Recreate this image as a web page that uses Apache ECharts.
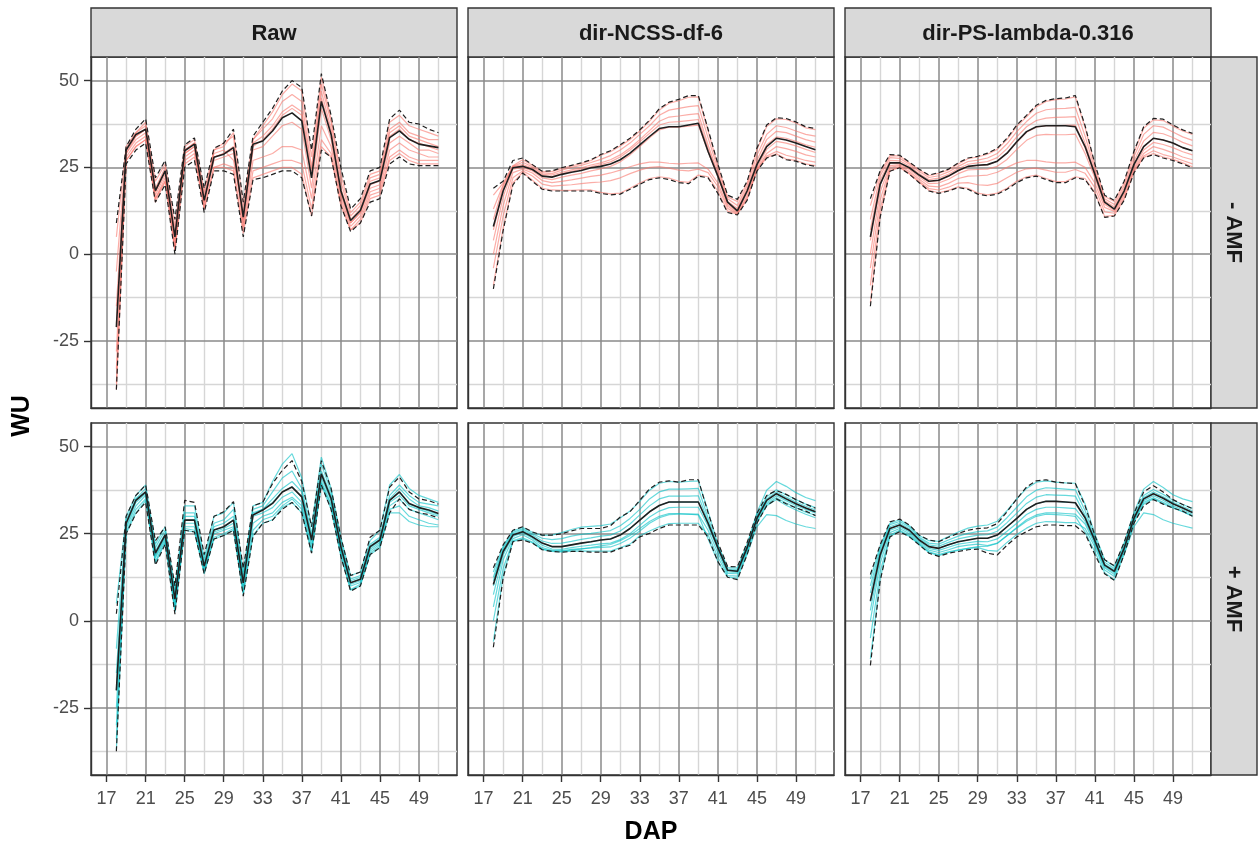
<!DOCTYPE html>
<html>
<head>
<meta charset="utf-8">
<title>WU by DAP</title>
<script src="https://cdn.jsdelivr.net/npm/echarts@6/dist/echarts.min.js"></script>
<style>
  html, body { margin: 0; padding: 0; background: #ffffff; }
  #chart { width: 1258px; height: 851px; }
</style>
</head>
<body>
<div id="chart"></div>
<script>
// ---- axis values -------------------------------------------------------
const DAP = [18,19,20,21,22,23,24,25,26,27,28,29,30,31,32,33,34,35,36,37,38,39,40,41,42,43,44,45,46,47,48,49,50,51];
const X_TICKS = [17,21,25,29,33,37,41,45,49];
const X_MINOR = [19,23,27,31,35,39,43,47,51];
const Y_TICKS = [-25,0,25,50];
const Y_MINOR = [-37.5,-12.5,12.5,37.5];
const METHODS = ['Raw','dir-NCSS-df-6','dir-PS-lambda-0.316'];
const TREATMENTS = ['- AMF','+ AMF'];

// ---- Raw, - AMF --------------------------------------------------------
const rawMinusMean  = [-21,30,34.5,36,18.3,24,5,29.8,31.7,15.5,27.9,28.8,30.7,10.7,31.7,32.6,35.5,39.3,40.7,38.4,22,44,34.5,18.3,9.7,12.6,20.2,21.2,33.6,35.5,33.1,31.7,31.2,30.7];
const rawMinusUpper = [9,31,36,39,22,27,10,31.5,33.5,19,30.5,32,36,15,34,38,42,47,50,48,30,52,40,25,13,16,24,25,39,41.5,38,37.5,36,35];
const rawMinusLower = [-39,26,30,32,15,20,0,25,27,12,24,24,23,5,21.5,22,23,24,24,22,11,30,28,14,6.5,9,15,16,26,28,26,25.5,25.5,25.5];
const rawMinusPlants = [
  [5,31,35,38,21,26,8,31,33,18,30,31,35,14,33,37,41,46,49,47,28,51,39,23,12,15,23,24,38,40,37,36,35,34],
  [-5,30,35,37,19,25,6,30,32,17,29,30,27,12,33,36,39,44,46,44,25,49,38,21,11,14,22,23,36,38,35,34,33,33],
  [-15,30,34,36,18,24,4,30,32,16,28,29,31,11,32,34,37,41,43,41,24,47,36,19,10,13,21,22,35,37,34,33,32,31],
  [-20,29,34,36,18,24,5,29,31,15,28,29,30,10,31,33,36,40,42,40,22,45,35,18,9,12,20,21,34,36,33,32,31,30],
  [-28,29,33,35,17,23,3,29,31,15,27,28,29,9,30,31,34,37,38,36,19,42,33,17,9,12,19,20,32,34,32,30,30,29],
  [-33,28,32,34,16,22,2,28,30,14,30,32,34,8,27,28,29,31,31,30,16,37,31,16,8,11,18,19,30,32,30,29,28,28],
  [-37,27,31,33,16,21,1,27,29,13,25,26,25,7,24,25,26,27,27,26,13,33,29,15,7,10,17,18,28,30,28,27,27,27],
  [-39,27,31,33,15,21,1,26,28,13,25,25,24,6,22,23,24,25,25,23,11,31,28,14,7,9,16,17,27,29,27,26,26,26]
];

// ---- dir-NCSS-df-6, - AMF ----------------------------------------------
const ncssMinusMean  = [8,18.2,24.9,25.3,24.4,22.5,22.2,23,23.6,24.1,24.9,25.3,26,27.2,29.1,31.5,33.9,36.2,36.7,36.7,37.2,37.7,29.6,22.5,15,12.5,18.2,25.8,31,33.4,32.9,32,31,30.1];
const ncssMinusUpper = [19,21,27,27.7,25.8,23.9,24,24.9,25.6,26.3,27.2,28.7,29.8,31.5,33.4,35.8,38.6,41.9,43.8,44.6,45.7,45.7,36,26,17,15.8,21,30.5,37.2,39.3,39.1,38.1,36.7,36.2];
const ncssMinusLower = [-10,6.8,20,23.4,21,18.7,18.2,18.2,18.2,18.2,18.2,17.5,17.1,17.3,18.7,20.1,21.5,22,21.5,20.6,20.3,22.5,22,17.5,12,11.3,15.5,23.9,27.7,28.7,27.2,26.8,25.8,25.3];
const ncssMinusPlants = [
  [17,20.5,25.5,27.2,25.6,23.8,23.8,24.7,25.4,26.1,27,28.5,29.5,31.2,33,35.5,38.3,41.5,43.5,44.2,45.2,45.3,35.5,25.5,16.5,15.2,20.5,30,36.8,39,38.8,37.8,36.4,35.9],
  [13,20,25.3,26.5,25.2,23.4,23.2,24.2,25,25.6,26.4,27.3,28.4,30,32,34.5,37,40,41.5,42,42.5,42.8,33.5,24.5,16,14,19.8,28.5,34.5,37,36.5,35.5,34.5,34],
  [10,19.5,25.2,25.8,24.8,23,22.8,23.6,24.3,24.9,25.7,26.3,27.2,28.6,30.6,33,35.6,38.3,39.5,39.8,40.2,40.5,31.5,23.5,15.2,13.2,19,27,33,35.4,35,34,33,32.3],
  [7,18.5,25,25.4,24.5,22.6,22.3,23.2,23.9,24.5,25.2,25.8,26.6,28,30,32.4,34.8,37.2,38,38.2,38.5,38.8,30.5,23,14.8,12.8,18.4,26,31.5,33.8,33.4,32.5,31.5,30.8],
  [4,16.5,24.5,25,24,22,21.5,22.2,22.8,23.3,24,24.6,25.3,26.6,28.6,31,33.5,35.8,36.6,36.6,36.9,37.2,29.5,22.3,14.3,12.2,17.6,25,30.2,32.5,32,31.2,30.2,29.3],
  [0,14,23.5,24.5,23.4,21.2,20.6,21,21.4,21.9,22.4,22.8,23.4,24.2,25.2,26,26.5,26.5,26.2,26,26.2,26.3,24.5,20.5,13.8,11.9,16.8,24.5,29,31,30.4,29.6,28.6,28],
  [-4,11,22,24,22.5,20.2,19.6,19.8,20,20.3,20.6,20.8,21.2,22,23.2,24.2,25,25.2,24.8,24.2,24,24.5,23.5,19.5,13.2,11.6,16.2,24.2,28.3,29.6,28.5,27.8,27,26.5],
  [-9,7.5,20.5,23.6,21.3,19,18.5,18.4,18.4,18.5,18.5,17.8,17.4,17.6,19,20.5,21.8,22.3,21.9,21,20.7,22.8,22.3,18.2,12.4,11.5,15.8,24,27.9,28.9,27.4,27,26,25.5]
];

// ---- dir-PS-lambda-0.316, - AMF ----------------------------------------
const psMinusMean  = [5,20.1,26.3,26.3,24.9,22.8,21,21.3,22.5,24.1,25.3,25.6,25.8,26.8,29.1,32.4,35.3,36.7,37,37,37,36.7,31,23,15,13,18.2,25.8,31,33.4,32.9,32,30.7,29.8];
const psMinusUpper = [16,24,28.7,28.5,26.5,24.5,22.8,23.5,24.5,26.3,27.7,28.2,29.1,30.5,33.4,37.2,40,42.9,44.3,44.8,45,45.7,37,26,17,15.5,21,29.6,36.7,39.1,38.9,37.2,35.8,34.8];
const psMinusLower = [-15,10.6,23.9,24.9,23,20.6,18.2,17.5,18.2,19.2,18.7,17.3,16.8,17.3,18.7,20.6,22,22.5,21.5,20.6,20.6,22,21.5,17.5,10.6,11,15.5,23.4,27.7,28.7,27.7,27,26,24.9];
const psMinusPlants = [
  [14,23.5,28.4,28.3,26.3,24.3,22.6,23.3,24.3,26,27.5,28,28.8,30.2,33,36.8,39.6,42.5,44,44.5,44.7,45.3,36.5,25.5,16.6,15.2,20.6,29.2,36.3,38.7,38.5,36.9,35.5,34.5],
  [10,22.5,27.8,27.6,25.9,23.8,22.1,22.6,23.7,25.3,26.7,27.1,27.7,29,31.8,35.3,38.2,40.6,41.6,41.9,42,42.3,34,24.5,16,14.3,19.8,28,34.5,37,36.6,35.2,33.8,32.8],
  [7,21.2,27,26.9,25.4,23.2,21.5,21.9,23,24.6,25.9,26.3,26.7,27.8,30.4,33.8,36.7,38.5,39.2,39.4,39.5,39.6,32,23.6,15.4,13.6,19,26.8,32.6,35.1,34.7,33.6,32.2,31.2],
  [4,20,26.2,26.2,24.8,22.7,20.9,21.2,22.4,24,25.2,25.5,25.7,26.7,29,32.2,35.1,36.6,37,37,37.1,37.2,30.6,22.8,14.9,13,18.2,25.8,31,33.4,32.9,32,30.7,29.8],
  [0,18,25.5,25.8,24.4,22.2,20.3,20.5,21.6,23.2,24.3,24.4,24.5,25.3,27.3,30.2,32.8,34.2,34.5,34.4,34.4,34.6,29,22,14.4,12.6,17.6,25,30,32.2,31.6,30.7,29.5,28.6],
  [-4,15.5,25,25.5,23.8,21.6,19.6,19.4,20.4,21.8,22.5,22.6,22.8,23.6,25,26.3,27,27,26.6,26.3,26.3,26.5,25,20.5,13.5,12.3,17,24.5,29,31,30.2,29.2,28,27.2],
  [-9,13,24.4,25.2,23.3,21,18.9,18.5,19.3,20.5,20.6,20,19.8,20.4,22,23.6,24.6,24.8,24.2,23.6,23.6,24.4,23.3,19.2,12.2,11.8,16.3,24,28.3,29.8,28.7,28,27,26],
  [-14,11,24,25,23.1,20.7,18.4,17.7,18.4,19.4,19,17.6,17.1,17.6,19,21,22.3,22.8,21.8,20.9,20.9,22.3,21.8,17.8,10.9,11.2,15.8,23.6,27.9,29,28,27.3,26.3,25.2]
];

// ---- Raw, + AMF --------------------------------------------------------
const rawPlusMean  = [-20,28,34.6,37,19.4,24.7,6.2,28.9,28.9,15.7,26.1,27,28.9,10.9,30.4,31.8,33.7,37,38.4,35.6,23.2,42.2,35.1,21.3,10.9,11.9,21.3,23.2,34.6,37,33.7,32.5,31.8,30.8];
const rawPlusUpper = [2,30,36,39,23,27,10,34.6,34,19,30,31.3,34.2,15,33,34,39.4,43.2,46,40,27,46,38,24,13,14,24,26,38.4,41.3,37,35,34.5,33.5];
const rawPlusLower = [-37.5,25,30.8,34,16,22,1.9,26,25.5,13.5,23.5,24.5,26,7.1,24.2,28,28.9,32,34,31,19.4,39,32,18.5,8.5,10,19,21,31,35,32,31,30.5,29.5];
const rawPlusPlants = [
  [5,30,36,39,22,27,9,33,33,18,30,31,34,14,33,34,40,45,48,41,27,47,38,24,13,14,23,26,39,42,38,36,35,34],
  [-8,29,35,38,21,26,8,31,31,17,28,29,32,13,32,33,37,41,43,38,25,45,37,23,12,13,22,24,36,39,36,34,33.5,33],
  [-15,28,35,37,20,25,7,30,30,16,27,28,30,12,31,32,35,38,40,37,24,43,36,22,11.5,12.5,21.5,23.5,35,38,35,33,32.5,31.5],
  [-20,28,34.5,37,19,24.5,6,29,29,15.5,26,27,29,11,30.5,32,34,37,38.5,35.5,23,42,35,21,11,12,21,23,34.5,37,33.5,32.5,31.5,30.5],
  [-25,27,34,36.5,18.5,24,5,28,28,15,25.5,26.5,28,10,30,31,32.5,35.5,37,34,22,41,34.5,20.5,10.5,11.5,20.5,22.5,34,36,33,32,31,30],
  [-30,26.5,33,36,18,23.5,4,27,27,14.5,25,26,27,9,28,30,31,34,35.5,33,21,40,33.5,20,10,11,20,22,33,35,32,31,30,29],
  [-34,25.5,32,35,17,23,3,26.5,26,14,24,25,26.5,8,26,29,30,33,35,32,20,39.5,33,19,9,10.5,19.5,21.5,32,33,30,29,28,27.5],
  [-37,25,31,34.5,16.5,22.5,2.5,26,25.5,13.5,23.5,24.5,26,7.5,24.5,28,29,32.5,34,31,19.5,39,32,18.5,8.8,10,19,21,31,31,28.5,27.5,27,27]
];

// ---- dir-NCSS-df-6, + AMF ----------------------------------------------
const ncssPlusMean  = [10.4,19.9,24.6,25.6,24.1,22.3,21.3,21.3,21.8,22.3,22.7,23.2,23.5,24.6,26.5,28.9,31.3,33.1,34.1,34.1,34.1,34.1,28,21,14.5,14.2,21,29.4,34.6,36.5,35,33.6,32.4,31.3];
const ncssPlusUpper = [15.2,21.8,26,27,25.5,24.6,24.6,25,25.8,26.5,26.5,26.5,27.3,29.8,31.3,34.6,37.9,39.8,40.2,39.8,40.5,40.5,31,22.5,15.6,15.5,22.5,30.8,36,37.4,36.3,34.8,33.5,32.3];
const ncssPlusLower = [-7.6,12.3,22.7,23.2,22.3,20.4,19.9,19.7,19.9,19.9,19.7,19.7,19.7,20.8,21.7,24.1,25.1,26.5,27.5,27.5,27.5,27.5,24,17,12.5,11.8,19,28,33,35,33.6,32.4,31.5,30.2];
const ncssPlusPlants = [
  [14,21.5,25.8,26.8,25.4,24.5,24.6,25.3,26.2,26.9,27.1,27.3,27.8,29.5,31.5,34.3,37.5,39.5,40,39.8,40,40.2,31.5,22,15.3,15.2,22,31,37.5,40,38.6,36.8,35.4,34.5],
  [12.5,21,25.4,26.4,25,23.7,23.3,23.6,24.3,24.8,25.1,25.5,25.9,27.3,29.4,32,35,37,37.8,37.8,37.9,38,29.5,21.5,14.9,14.8,21.6,30.2,35.6,37.6,36.2,34.8,33.5,32.5],
  [11.5,20.5,25,26,24.6,22.9,22.2,22.3,22.8,23.4,23.8,24.3,24.6,25.8,27.8,30.4,33,35,35.8,35.8,35.8,35.9,28.5,21.2,14.6,14.5,21.2,29.8,35,37,35.5,34.1,32.9,31.8],
  [10,19.8,24.6,25.6,24.1,22.3,21.3,21.3,21.8,22.3,22.7,23.2,23.5,24.6,26.5,28.9,31.3,33.1,34.1,34.1,34.1,34.1,28,21,14.4,14.2,20.8,29.4,34.6,36.5,35,33.6,32.4,31.3],
  [7.5,19,24.2,25.3,23.7,21.7,20.6,20.5,21,21.4,21.7,22.1,22.3,23.3,25,27.4,29.8,31.5,32.5,32.6,32.6,32.6,27.2,20.5,14,13.9,20.4,29,34,35.9,34.5,33.1,32,31],
  [4,17.5,23.6,24.7,23.2,21,20.2,20.1,20.5,20.7,20.9,21.1,21.2,22.2,23.7,25.8,28,29.6,30.5,30.6,30.6,30.6,26,19.5,13.6,13.5,20,28.6,33.5,35.3,33.8,32.5,31.2,30.3],
  [0,15,23,23.8,22.6,20.6,19.9,19.8,20,20.1,20,20,20,21,22,24.4,25.8,27,27.9,28,28,28,24.6,18.3,13,12.8,19.6,28.2,33,34.8,33.2,31.8,30.6,29.6],
  [-6,13,22.8,23.4,22.4,20.5,20,20,20.3,20.6,21,21.5,21.9,23,24.5,26.5,28.5,30,30.8,30.8,30.6,30.4,23.5,17,12.6,12.2,19,27,30.5,30.2,28.8,27.8,27,26.5]
];

// ---- dir-PS-lambda-0.316, + AMF ----------------------------------------
const psPlusMean  = [5.7,18.9,26.5,27.5,26,23.2,21.3,20.8,21.8,22.7,23.2,23.7,23.7,24.6,27,29.4,32,33.6,34.3,34.3,34.1,33.9,29.6,23,16,14.2,20.8,29.4,35,36.5,35.2,33.6,32.4,31.1];
const psPlusUpper = [13.3,21.8,28.4,29.2,27.5,24.6,23.2,22.7,24,25.1,26,26.5,26.7,27.9,31.3,35,38.4,40.2,40.5,39.8,39.6,39.4,33,24.5,17.5,15.8,22.5,30.8,37,38.8,37,34.8,33.4,32.2];
const psPlusLower = [-12.8,11.4,24.1,25.6,24.1,21.8,19.4,18.5,19.4,19.9,20.4,20.6,19.4,18.9,21.7,24.1,25.6,27,27.5,27.5,27.3,27.3,25,19,13.5,11.6,19,28,33,34.8,33.5,32.4,31.5,30];
const psPlusPlants = [
  [12,21.5,28,29,27.3,24.5,23,22.8,24.2,25.5,26.6,27.2,27.5,28.6,31.6,35,38,39.8,40.2,39.8,39.6,39.5,33.5,25,17.5,15.6,22.4,31,37.8,40,38.3,36.2,35,34.2],
  [10,20.8,27.6,28.5,26.9,24,22.3,22,23.2,24.3,25.1,25.6,25.8,26.9,29.6,32.6,35.6,37.5,38.2,38,37.8,37.6,31.6,24,16.8,15,21.8,30.3,36,37.7,36.3,34.6,33.4,32.3],
  [8,20,27,28,26.4,23.6,21.8,21.4,22.5,23.5,24.1,24.6,24.7,25.7,28.2,30.9,33.7,35.5,36.2,36.1,36,35.8,30.3,23.5,16.2,14.6,21.2,29.8,35.4,37,35.6,34,32.8,31.6],
  [5.5,19,26.5,27.5,26,23.2,21.3,20.8,21.8,22.7,23.2,23.7,23.7,24.6,27,29.4,32,33.6,34.3,34.3,34.1,33.9,29.6,23,16,14.2,20.8,29.4,35,36.5,35.2,33.6,32.4,31.1],
  [3,18,26,27,25.5,22.7,20.8,20.2,21.1,22,22.4,22.8,22.7,23.5,25.7,28,30.5,32,32.6,32.6,32.4,32.2,28.6,22.5,15.6,13.8,20.4,29,34.5,35.9,34.6,33,31.9,30.6],
  [0,16.5,25.3,26.5,25,22.3,20.3,19.6,20.4,21.3,21.7,22,21.6,22.3,24.5,26.8,29,30.4,31,31,30.8,30.6,27.8,22,15.2,13.3,20,28.6,34,35.3,34,32.6,31.4,30.2],
  [-5,14,24.6,26,24.5,22,19.8,19,19.8,20.4,20.8,21,20.2,20,22.5,24.8,26.6,28,28.5,28.4,28.2,28.2,26.5,21.2,14.6,12.7,19.6,28.2,33.5,35,33.6,32.4,31.3,30],
  [-11,12,24.2,25.7,24.2,21.9,19.6,18.7,19.6,20.2,20.8,21.3,21.4,22.2,24.4,26.6,28.6,30,30.6,30.5,30.3,30,25.5,19.8,13.8,11.8,19,27,31,30.5,29,28,27.3,26.6]
];

// ---- layout ------------------------------------------------------------
const FONT = '"Liberation Sans", Arial, Helvetica, sans-serif';
const X_MIN = 15.4, X_MAX = 52.9;
const Y_MIN = -44.3, Y_MAX = 56.8;
const COL_LEFT = [91, 468, 845];
const ROW_TOP = [57, 423];
const PANEL_W = 366;
const PANEL_H = [351, 352];
const STRIP_TOP = 8;
const STRIP_RIGHT_X = 1211;
const STRIP_RIGHT_W = 46;
const PLANT_COLOR = ['rgba(248,118,109,0.6)', 'rgba(0,191,196,0.6)'];
const DARK = '#1f1f1f';
const MAJOR_GRID = '#8a8a8a';
const MINOR_GRID = '#d6d6d6';

const panels = [
  { row: 0, col: 0, plants: rawMinusPlants,  mean: rawMinusMean,  upper: rawMinusUpper,  lower: rawMinusLower },
  { row: 0, col: 1, plants: ncssMinusPlants, mean: ncssMinusMean, upper: ncssMinusUpper, lower: ncssMinusLower },
  { row: 0, col: 2, plants: psMinusPlants,   mean: psMinusMean,   upper: psMinusUpper,   lower: psMinusLower },
  { row: 1, col: 0, plants: rawPlusPlants,   mean: rawPlusMean,   upper: rawPlusUpper,   lower: rawPlusLower },
  { row: 1, col: 1, plants: ncssPlusPlants,  mean: ncssPlusMean,  upper: ncssPlusUpper,  lower: ncssPlusLower },
  { row: 1, col: 2, plants: psPlusPlants,    mean: psPlusMean,    upper: psPlusUpper,    lower: psPlusLower }
];

const toPairs = vals => DAP.map((d, k) => [d, vals[k]]);

const grids = [], xAxes = [], yAxes = [], series = [];

panels.forEach((p, i) => {
  grids.push({
    left: COL_LEFT[p.col], top: ROW_TOP[p.row],
    width: PANEL_W, height: PANEL_H[p.row],
    show: true, backgroundColor: '#ffffff',
    borderColor: '#333333', borderWidth: 1.4,
    containLabel: false, outerBoundsMode: 'none'
  });

  const showX = p.row === 1;
  const showY = p.col === 0;

  // minor grid lines (axis index 2*i)
  xAxes.push({
    type: 'value', gridIndex: i, position: 'top', min: X_MIN, max: X_MAX, z: 0,
    axisLine: { show: false, onZero: false },
    axisTick: { show: false, customValues: X_MINOR },
    axisLabel: { show: false, customValues: X_MINOR },
    splitLine: { show: true, lineStyle: { color: MINOR_GRID, width: 1.4 } }
  });
  yAxes.push({
    type: 'value', gridIndex: i, position: 'right', min: Y_MIN, max: Y_MAX, z: 0,
    axisLine: { show: false, onZero: false },
    axisTick: { show: false, customValues: Y_MINOR },
    axisLabel: { show: false, customValues: Y_MINOR },
    splitLine: { show: true, lineStyle: { color: MINOR_GRID, width: 1.4 } }
  });

  // major axes (axis index 2*i + 1)
  xAxes.push({
    type: 'value', gridIndex: i, position: 'bottom', min: X_MIN, max: X_MAX, z: 1,
    axisLine: { show: true, onZero: false, lineStyle: { color: '#333333', width: 1.4 } },
    axisTick: { show: showX, customValues: X_TICKS, length: 7, lineStyle: { color: '#333333', width: 1.4 } },
    axisLabel: { show: showX, customValues: X_TICKS, color: '#4d4d4d', fontSize: 18, fontFamily: FONT, margin: 15 },
    splitLine: { show: true, lineStyle: { color: MAJOR_GRID, width: 1.5 } }
  });
  yAxes.push({
    type: 'value', gridIndex: i, position: 'left', min: Y_MIN, max: Y_MAX, z: 1,
    axisLine: { show: true, onZero: false, lineStyle: { color: '#333333', width: 1.4 } },
    axisTick: { show: showY, customValues: Y_TICKS, length: 7, lineStyle: { color: '#333333', width: 1.4 } },
    axisLabel: { show: showY, customValues: Y_TICKS, color: '#4d4d4d', fontSize: 18, fontFamily: FONT, margin: 12 },
    splitLine: { show: true, lineStyle: { color: MAJOR_GRID, width: 1.5 } }
  });

  const axisRef = { xAxisIndex: 2 * i + 1, yAxisIndex: 2 * i + 1 };

  p.plants.forEach((plant, k) => {
    series.push(Object.assign({
      name: TREATMENTS[p.row] + ' plant ' + (k + 1),
      type: 'line', data: toPairs(plant),
      symbol: 'none', silent: true, z: 2,
      lineStyle: { color: PLANT_COLOR[p.row], width: 1.2 }
    }, axisRef));
  });
  [p.upper, p.lower].forEach((band, k) => {
    series.push(Object.assign({
      name: TREATMENTS[p.row] + (k === 0 ? ' upper' : ' lower'),
      type: 'line', data: toPairs(band),
      symbol: 'none', silent: true, z: 4,
      lineStyle: { color: DARK, width: 1.2, type: [5, 3] }
    }, axisRef));
  });
  series.push(Object.assign({
    name: TREATMENTS[p.row] + ' mean',
    type: 'line', data: toPairs(p.mean),
    symbol: 'none', silent: true, z: 3,
    lineStyle: { color: DARK, width: 1.6 }
  }, axisRef));
});

// ---- facet strips and axis titles --------------------------------------
const graphics = [];
METHODS.forEach((m, c) => {
  graphics.push({
    type: 'rect', silent: true,
    shape: { x: COL_LEFT[c], y: STRIP_TOP, width: PANEL_W, height: ROW_TOP[0] - STRIP_TOP },
    style: { fill: '#d9d9d9', stroke: '#333333', lineWidth: 1.4 }
  });
  graphics.push({
    type: 'text', silent: true,
    x: COL_LEFT[c] + PANEL_W / 2, y: (STRIP_TOP + ROW_TOP[0]) / 2 + 1,
    style: { text: m, fill: '#1a1a1a', font: 'bold 22px ' + FONT, textAlign: 'center', textVerticalAlign: 'middle' }
  });
});
TREATMENTS.forEach((t, r) => {
  graphics.push({
    type: 'rect', silent: true,
    shape: { x: STRIP_RIGHT_X, y: ROW_TOP[r], width: STRIP_RIGHT_W, height: PANEL_H[r] },
    style: { fill: '#d9d9d9', stroke: '#333333', lineWidth: 1.4 }
  });
  graphics.push({
    type: 'text', silent: true,
    x: STRIP_RIGHT_X + STRIP_RIGHT_W / 2 - 1, y: ROW_TOP[r] + PANEL_H[r] / 2,
    rotation: -Math.PI / 2,
    style: { text: t, fill: '#1a1a1a', font: 'bold 22px ' + FONT, textAlign: 'center', textVerticalAlign: 'middle' }
  });
});
graphics.push({
  type: 'text', silent: true, x: 22, y: (ROW_TOP[0] + ROW_TOP[1] + PANEL_H[1]) / 2,
  rotation: Math.PI / 2,
  style: { text: 'WU', fill: '#000000', font: 'bold 25px ' + FONT, textAlign: 'center', textVerticalAlign: 'middle' }
});
graphics.push({
  type: 'text', silent: true, x: (COL_LEFT[0] + COL_LEFT[2] + PANEL_W) / 2, y: 832,
  style: { text: 'DAP', fill: '#000000', font: 'bold 25px ' + FONT, textAlign: 'center', textVerticalAlign: 'middle' }
});

const chart = echarts.init(document.getElementById('chart'), null, { renderer: 'canvas' });
chart.setOption({
  animation: false,
  backgroundColor: '#ffffff',
  grid: grids,
  xAxis: xAxes,
  yAxis: yAxes,
  series: series,
  graphic: graphics,
  tooltip: { show: false },
  legend: { show: false }
});
</script>
</body>
</html>
